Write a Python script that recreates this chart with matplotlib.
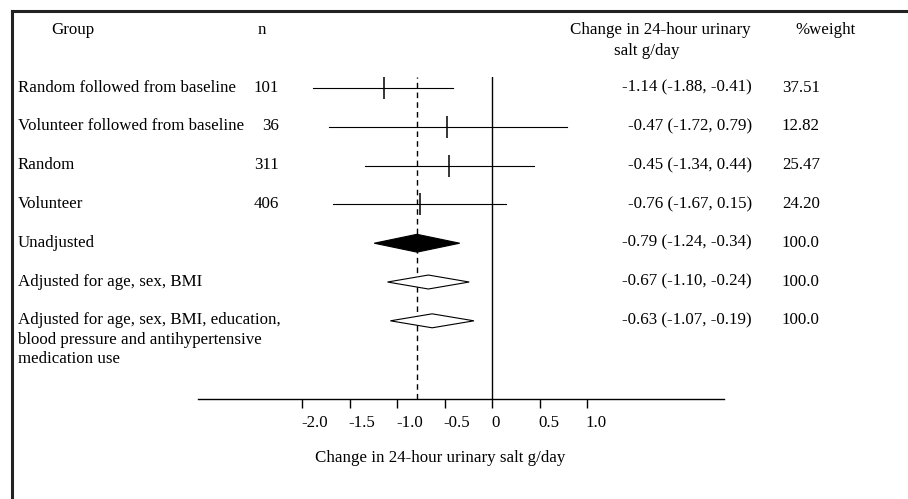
import matplotlib
matplotlib.use("Agg")
import matplotlib.pyplot as plt
import matplotlib.transforms as mtransforms
from matplotlib.lines import Line2D

plt.rcParams["font.family"] = ["Liberation Serif", "DejaVu Serif"]

# datos del forest plot
groups = [
    "Random followed from baseline",
    "Volunteer followed from baseline",
    "Random",
    "Volunteer",
    "Unadjusted",
    "Adjusted for age, sex, BMI",
    "Adjusted for age, sex, BMI, education,\nblood pressure and antihypertensive\nmedication use",
]
n_obs = ["101", "36", "311", "406", "", "", ""]
est = [-1.14, -0.47, -0.45, -0.76, -0.79, -0.67, -0.63]
ci_low = [-1.88, -1.72, -1.34, -1.67, -1.24, -1.10, -1.07]
ci_high = [-0.41, 0.79, 0.44, 0.15, -0.34, -0.24, -0.19]
weights = ["37.51", "12.82", "25.47", "24.20", "100.0", "100.0", "100.0"]
kind = ["study", "study", "study", "study", "pooled_filled", "pooled", "pooled"]
overall = -0.79
ticks = [-2.0, -1.5, -1.0, -0.5, 0.0, 0.5, 1.0]
tick_labels = ["-2.0", "-1.5", "-1.0", "-0.5", "0", "0.5", "1.0"]

W, H = 908, 499
fig = plt.figure(figsize=(W / 100, H / 100), dpi=100)
ax = fig.add_axes([198 / W, 1 - 399 / H, (724 - 198) / W, (399 - 77) / H])
ax.set_xlim(-3.095, 2.442)
ax.set_ylim(8.015, -0.284)

fs = 12.2
rows = list(range(len(groups)))

# intervalos y estimaciones
for i in rows:
    if kind[i] == "study":
        ax.plot([ci_low[i], ci_high[i]], [i, i], color="black", lw=0.8)
        ax.plot([est[i]], [i], marker="|", markersize=16, mew=1.1, color="black")
    else:
        h = 0.23 if kind[i] == "pooled_filled" else 0.18
        fc = "black" if kind[i] == "pooled_filled" else "white"
        ax.fill([ci_low[i], est[i], ci_high[i], est[i]], [i, i - h, i, i + h],
                facecolor=fc, edgecolor="black", lw=0.8, zorder=3)

ax.axvline(0, color="black", lw=1.0, zorder=1)
ax.axvline(overall, color="black", lw=1.0, ls=(0, (4, 3)), zorder=1)

# eje x
for s in ["top", "left", "right"]:
    ax.spines[s].set_visible(False)
ax.spines["bottom"].set_linewidth(1.0)
ax.set_yticks([])
ax.set_xticks(ticks)
ax.set_xticklabels(tick_labels, fontsize=fs, ha="left")
ax.tick_params(axis="x", direction="out", length=6.5, width=1.0, pad=5)
for lab in ax.get_xticklabels():
    lab.set_transform(lab.get_transform() + mtransforms.ScaledTranslation(-1 / 100, 0, fig.dpi_scale_trans))
ax.set_xlabel("Change in 24-hour urinary salt g/day", fontsize=fs)
ax.xaxis.set_label_coords((440 - 198) / (724 - 198), -(458 - 399) / (399 - 77))
ax.xaxis.label.set_va("center")

# columnas de texto
trans = mtransforms.blended_transform_factory(fig.transFigure, ax.transData)
off = 0.09
line_gap = 0.5
for i in rows:
    for j, line in enumerate(groups[i].split("\n")):
        ax.text(18 / W, i + off + j * line_gap, line, transform=trans, fontsize=fs,
                va="baseline", ha="left", clip_on=False)
    ax.text(279 / W, i + off, n_obs[i], transform=trans, fontsize=fs, va="baseline", ha="right", clip_on=False)
    ax.text(752 / W, i + off, f"{est[i]:.2f} ({ci_low[i]:.2f}, {ci_high[i]:.2f})", transform=trans,
            fontsize=fs, va="baseline", ha="right", clip_on=False)
    ax.text(782 / W, i + off, weights[i], transform=trans, fontsize=fs, va="baseline", ha="left", clip_on=False)

hy = -1.47 + off
ax.text(73 / W, hy, "Group", transform=trans, fontsize=fs, va="baseline", ha="center", clip_on=False)
ax.text(262 / W, hy, "n", transform=trans, fontsize=fs, va="baseline", ha="center", clip_on=False)
ax.text(660 / W, hy, "Change in 24-hour urinary", transform=trans, fontsize=fs, va="baseline", ha="center", clip_on=False)
ax.text(647 / W, -0.93 + off, "salt g/day", transform=trans, fontsize=fs, va="baseline", ha="center", clip_on=False)
ax.text(825 / W, hy, "%weight", transform=trans, fontsize=fs, va="baseline", ha="center", clip_on=False)

# marco
fig.add_artist(Line2D([11.5 / W, 1], [1 - 11 / H, 1 - 11 / H], color="#222222", lw=2.2))
fig.add_artist(Line2D([11.5 / W, 11.5 / W], [0, 1 - 11 / H], color="#222222", lw=2.2))

fig.savefig("out.png", dpi=100)
